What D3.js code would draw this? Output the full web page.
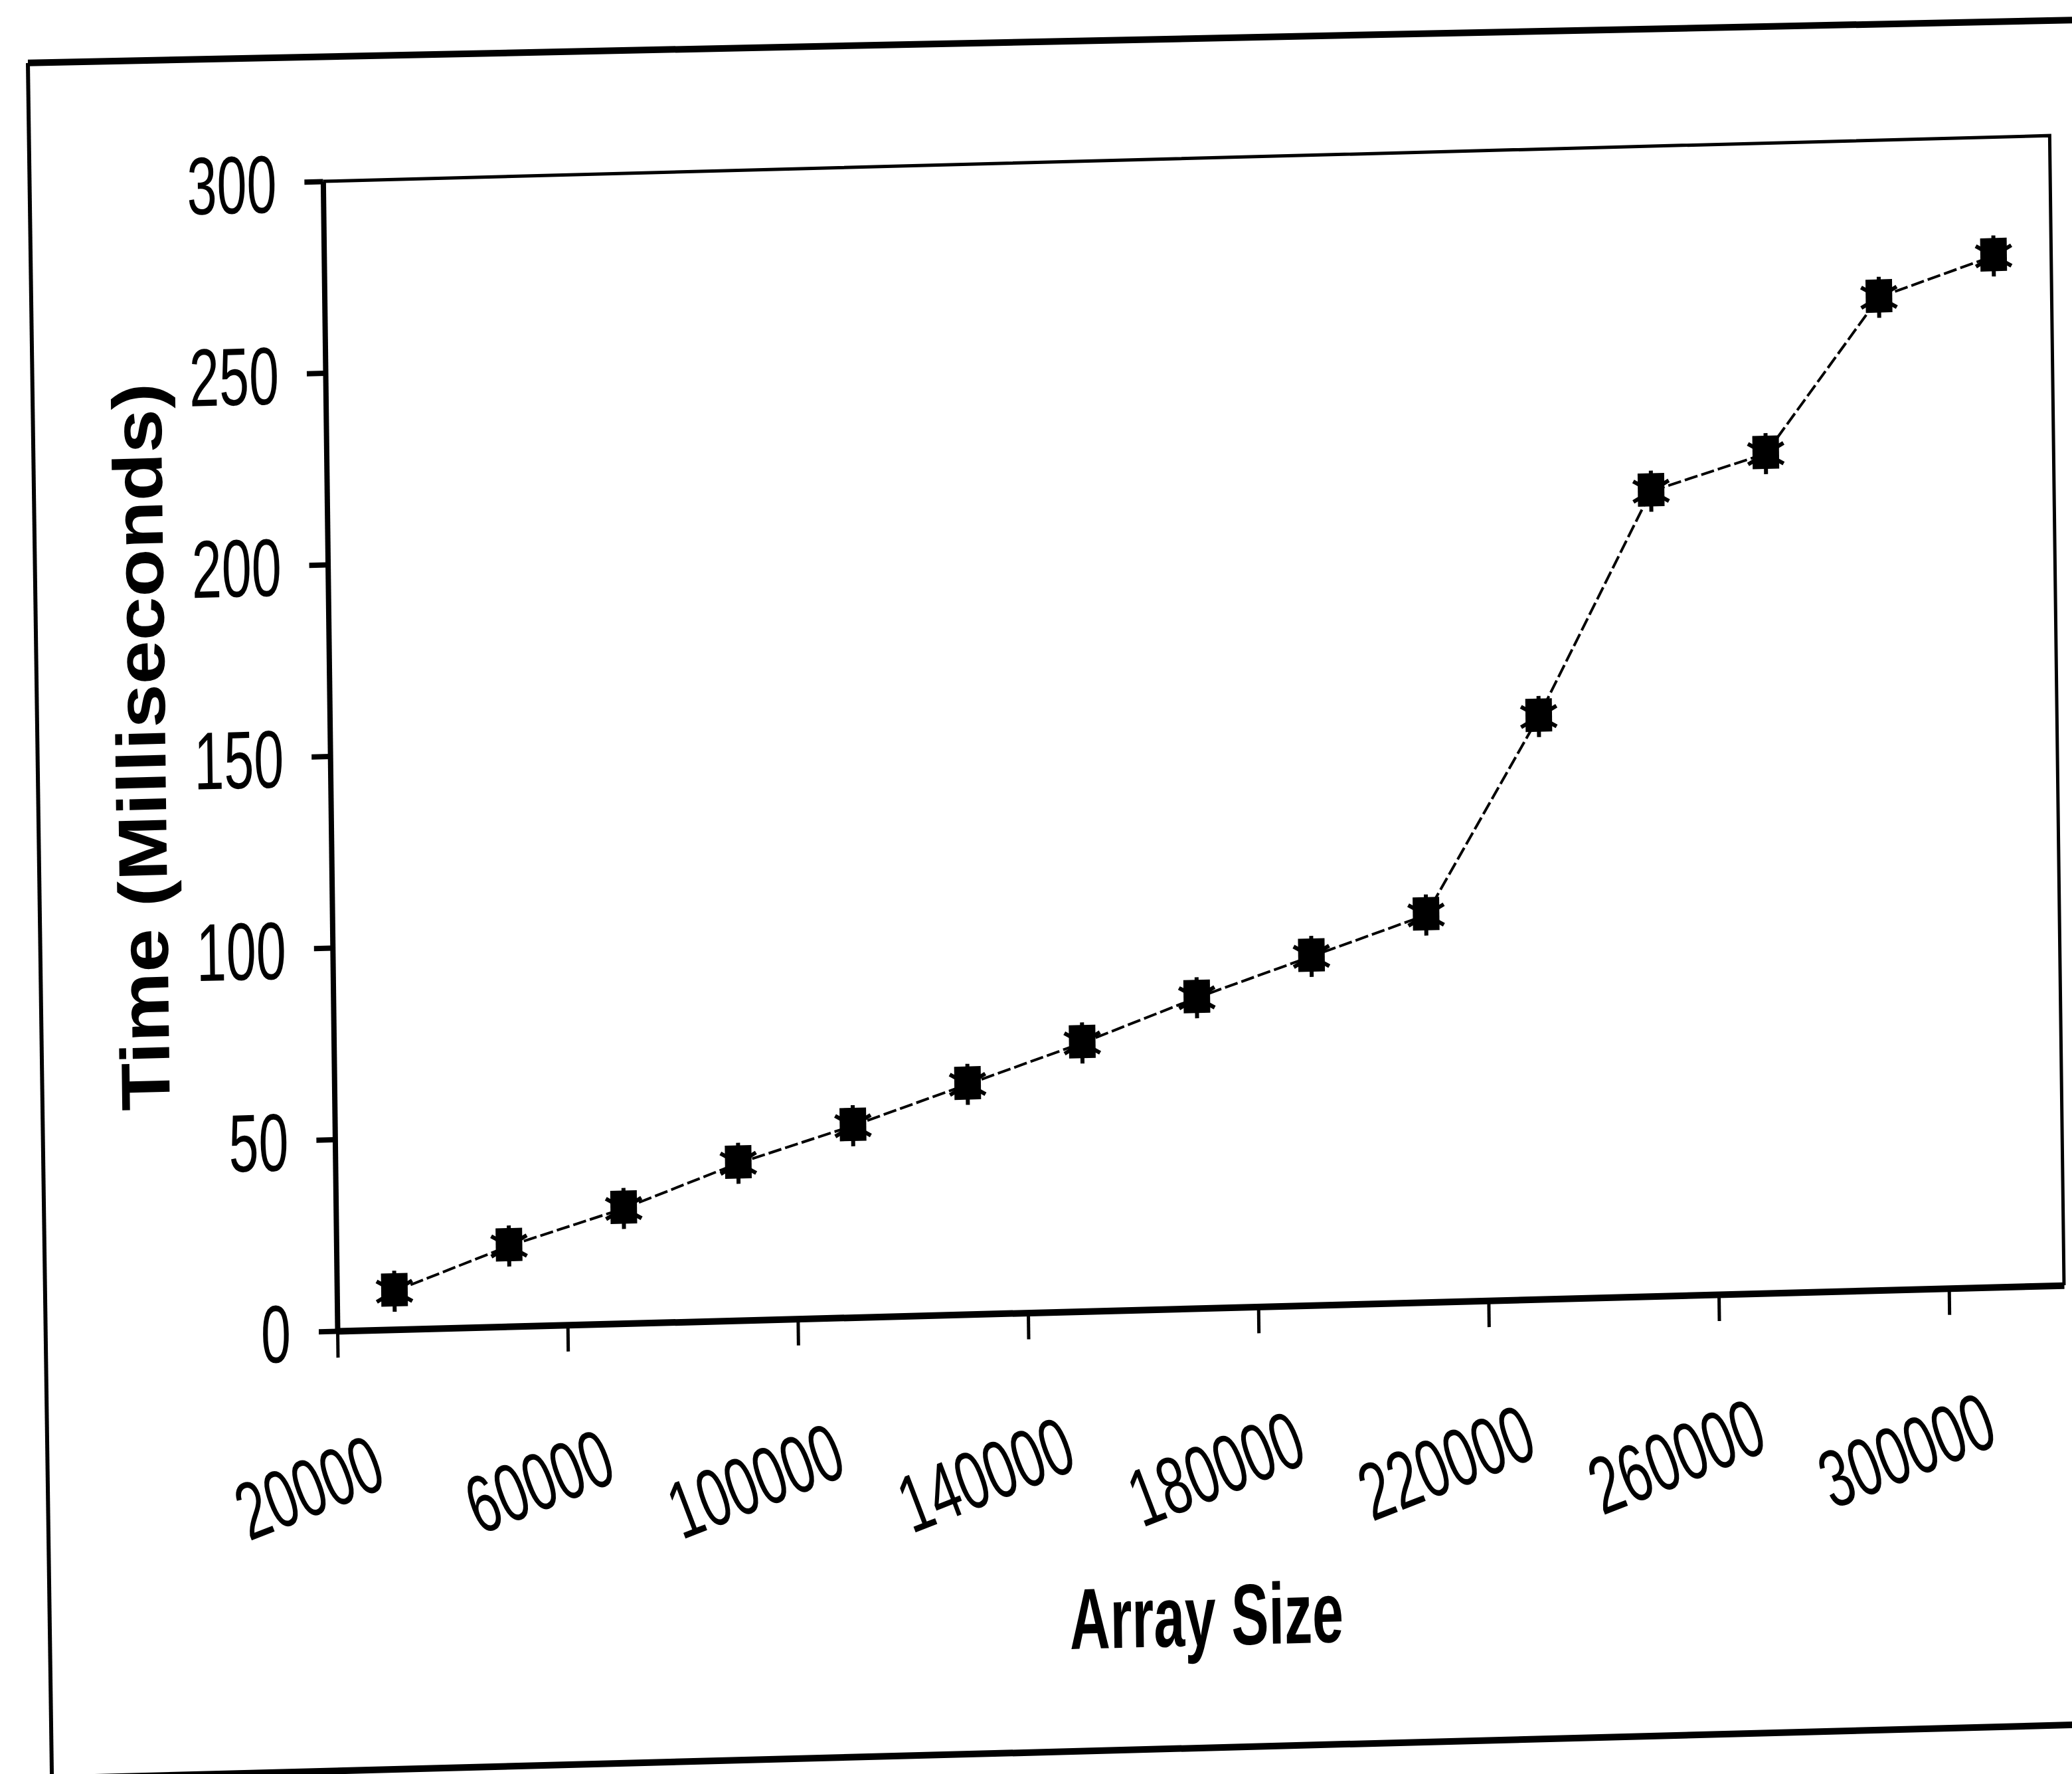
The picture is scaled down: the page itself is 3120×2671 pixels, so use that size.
<!DOCTYPE html>
<html>
<head>
<meta charset="utf-8">
<script src="https://cdn.jsdelivr.net/npm/d3@7"></script>
<style>
  html, body { margin: 0; padding: 0; background: #fff; }
  svg { display: block; }
</style>
</head>
<body>
<svg id="chart" width="3120" height="2671"></svg>
<script>
// Array sizes (category axis) and measured run times in milliseconds
const categories = [20000, 40000, 60000, 80000, 100000, 120000, 140000, 160000,
                    180000, 200000, 220000, 240000, 260000, 280000, 300000];
const timeMs = [10, 21, 30, 41, 50, 60, 70, 81, 91, 101, 152, 210, 219, 259, 269];
const yTickValues = [0, 50, 100, 150, 200, 250, 300];
const labelledCategories = [20000, 60000, 100000, 140000, 180000, 220000, 260000, 300000];
const xTitle = "Array Size";
const yTitle = "Time (Milliseconds)";

const W = 3120, H = 2671;
const plot = { left: 500, top: 245, right: 3100, bottom: 1976 };
const INK = "#000";
const digitFont = "'Liberation Sans', Arial, sans-serif";

const svg = d3.select("#chart");
svg.append("rect").attr("width", W).attr("height", H).attr("fill", "#fff");

// the printed page sits slightly askew
const page = svg.append("g")
  .attr("transform", "matrix(1,-0.0265,0.0125,1,-16.69,41.34)");

// outer chart frame
const frame = page.append("g").attr("stroke", INK).attr("fill", "none");
frame.append("line").attr("x1", 58).attr("y1", 55).attr("x2", 3300).attr("y2", 73).attr("stroke-width", 10);
frame.append("line").attr("x1", 58).attr("y1", 55).attr("x2", 62).attr("y2", 2750).attr("stroke-width", 6);
frame.append("line").attr("x1", 58).attr("y1", 2638).attr("x2", 3300).attr("y2", 2638).attr("stroke-width", 10);

// scales
const x = d3.scaleBand().domain(categories).range([plot.left, plot.right]).padding(0);
const xEdge = d3.scaleLinear().domain([0, categories.length]).range([plot.left, plot.right]);
const y = d3.scaleLinear().domain([0, 300]).range([plot.bottom, plot.top]);

// plot-area border (top and right sides)
page.append("path")
  .attr("d", `M${xEdge(0)},${y(300)}H${xEdge(categories.length)}V${y(0)}`)
  .attr("fill", "none").attr("stroke", INK).attr("stroke-width", 5);

// y axis
const gy = page.append("g")
  .attr("transform", `translate(${plot.left},0)`)
  .call(d3.axisLeft(y).tickValues(yTickValues).tickSize(28).tickSizeOuter(0).tickPadding(42));
gy.select(".domain").attr("stroke", INK).attr("stroke-width", 8);
gy.selectAll(".tick line").attr("stroke", INK).attr("stroke-width", 8);
gy.selectAll(".tick text")
  .attr("font-family", digitFont).attr("font-size", 123).attr("fill", INK)
  .attr("dy", "0.36em")
  .attr("textLength", d => String(d).length * 45)
  .attr("lengthAdjust", "spacingAndGlyphs");

// x axis: tick marks on category boundaries, every second category
const gxTicks = page.append("g")
  .attr("transform", `translate(0,${plot.bottom})`)
  .call(d3.axisBottom(xEdge).tickValues(d3.range(0, categories.length, 2))
        .tickSize(40).tickSizeOuter(0).tickFormat(""));
gxTicks.select(".domain").attr("stroke", INK).attr("stroke-width", 10);
gxTicks.selectAll(".tick line").attr("stroke", INK).attr("stroke-width", 5);

// x axis: slanted category labels
const gxLabels = page.append("g")
  .attr("transform", `translate(0,${plot.bottom})`)
  .call(d3.axisBottom(x).tickValues(labelledCategories).tickSize(0));
gxLabels.select(".domain").remove();
gxLabels.selectAll(".tick text")
  .attr("font-family", digitFont).attr("font-size", 123).attr("fill", INK)
  .attr("x", 0).attr("y", 0).attr("dy", null)
  .attr("text-anchor", "end")
  .attr("transform", "translate(-12,236) rotate(-20)")
  .attr("textLength", d => String(d).length * 45)
  .attr("lengthAdjust", "spacingAndGlyphs");

// axis titles
page.append("text")
  .attr("x", 1803).attr("y", 2484)
  .attr("text-anchor", "middle")
  .attr("font-family", digitFont).attr("font-weight", "bold")
  .attr("font-size", 130).attr("fill", INK)
  .attr("textLength", 412).attr("lengthAdjust", "spacingAndGlyphs")
  .text(xTitle);

page.append("text")
  .attr("transform", "translate(252,1089) rotate(-90)")
  .attr("text-anchor", "middle")
  .attr("font-family", "'Liberation Sans', Arial, sans-serif").attr("font-weight", "bold")
  .attr("font-size", 104).attr("fill", INK)
  .attr("textLength", 1095).attr("lengthAdjust", "spacingAndGlyphs")
  .text(yTitle);

// series line
const cx = (d, i) => x(categories[i]) + x.bandwidth() / 2;
const line = d3.line().x(cx).y(d => y(d));
page.append("path")
  .datum(timeMs)
  .attr("d", line)
  .attr("fill", "none").attr("stroke", INK)
  .attr("stroke-width", 4).attr("stroke-dasharray", "20 6");

// star markers
const markers = page.selectAll("g.marker")
  .data(timeMs)
  .join("g")
  .attr("class", "marker")
  .attr("transform", (d, i) => `translate(${cx(d, i)},${y(d)})`);
markers.append("rect")
  .attr("x", -20).attr("y", -27).attr("width", 40).attr("height", 50)
  .attr("fill", INK);
markers.append("path")
  .attr("d", d3.symbol(d3.symbolAsterisk, 2700)())
  .attr("fill", "none").attr("stroke", INK).attr("stroke-width", 6);
</script>
</body>
</html>
